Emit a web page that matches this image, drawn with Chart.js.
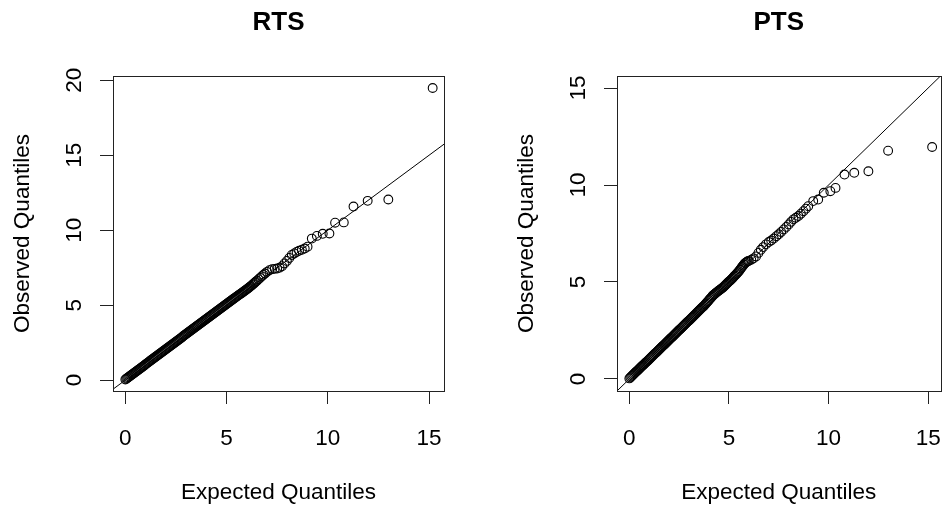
<!DOCTYPE html>
<html>
<head>
<meta charset="utf-8">
<title>RTS / PTS Q-Q plots</title>
<script src="https://cdn.jsdelivr.net/npm/chart.js@4.4.1/dist/chart.umd.min.js"></script>
<style>
  html, body { margin: 0; padding: 0; background: #fff; overflow: hidden; }
  #wrap { position: relative; width: 944px; height: 506px; overflow: hidden; }
  .panel { position: absolute; top: 0; height: 506px; }
  canvas { display: block; }
</style>
</head>
<body>
<div id="wrap">
  <div class="panel" style="left:0;width:472px"><canvas id="rtsChart" width="472" height="506"></canvas></div>
  <div class="panel" style="left:472px;width:474px"><canvas id="ptsChart" width="474" height="506"></canvas></div>
</div>
<script>
// RTS: expected vs observed quantiles
const rtsExpected = [
  0.00, 0.05, 0.10, 0.15, 0.20, 0.25, 0.30, 0.35, 0.40, 0.45, 0.50, 0.55, 0.60, 0.65, 0.70, 0.75,
  0.80, 0.85, 0.90, 0.95, 1.00, 1.05, 1.10, 1.15, 1.20, 1.25, 1.30, 1.35, 1.40, 1.45, 1.50, 1.55,
  1.60, 1.65, 1.70, 1.75, 1.80, 1.85, 1.90, 1.95, 2.00, 2.05, 2.10, 2.15, 2.20, 2.25, 2.30, 2.35,
  2.40, 2.45, 2.50, 2.55, 2.60, 2.65, 2.70, 2.75, 2.80, 2.85, 2.90, 2.95, 3.00, 3.05, 3.10, 3.15,
  3.20, 3.25, 3.30, 3.35, 3.40, 3.45, 3.50, 3.55, 3.60, 3.65, 3.70, 3.75, 3.80, 3.85, 3.90, 3.95,
  4.00, 4.05, 4.10, 4.15, 4.20, 4.25, 4.30, 4.35, 4.40, 4.45, 4.50, 4.55, 4.60, 4.65, 4.70, 4.75,
  4.80, 4.85, 4.90, 4.95, 5.00, 5.05, 5.10, 5.15, 5.20, 5.25, 5.30, 5.35, 5.40, 5.45, 5.50, 5.55,
  5.60, 5.65, 5.70, 5.75, 5.80, 5.85, 5.90, 5.95, 6.00, 6.05, 6.10, 6.15, 6.20, 6.25, 6.30, 6.35,
  6.40, 6.45, 6.50, 6.58, 6.66, 6.74, 6.82, 6.90, 7.00, 7.12, 7.25, 7.38, 7.50, 7.62, 7.74, 7.86,
  7.98, 8.10, 8.22, 8.34, 8.46, 8.58, 8.72, 8.86, 9.00, 9.21, 9.46, 9.75, 10.08, 10.36, 10.79, 11.27,
  11.97, 12.99, 15.18
];
const rtsObserved = [
  0.04, 0.09, 0.14, 0.19, 0.24, 0.29, 0.34, 0.39, 0.44, 0.49, 0.54, 0.59, 0.64, 0.69, 0.74, 0.79,
  0.84, 0.89, 0.94, 0.99, 1.05, 1.10, 1.15, 1.20, 1.26, 1.31, 1.36, 1.41, 1.46, 1.51, 1.56, 1.61,
  1.66, 1.71, 1.76, 1.81, 1.86, 1.91, 1.96, 2.01, 2.06, 2.11, 2.16, 2.21, 2.26, 2.31, 2.36, 2.41,
  2.46, 2.51, 2.56, 2.61, 2.66, 2.71, 2.76, 2.81, 2.86, 2.92, 2.97, 3.02, 3.07, 3.12, 3.17, 3.22,
  3.27, 3.32, 3.38, 3.43, 3.48, 3.53, 3.58, 3.63, 3.68, 3.73, 3.78, 3.83, 3.88, 3.93, 3.98, 4.03,
  4.08, 4.13, 4.18, 4.23, 4.28, 4.33, 4.38, 4.43, 4.48, 4.53, 4.58, 4.63, 4.68, 4.73, 4.78, 4.83,
  4.88, 4.93, 4.98, 5.03, 5.08, 5.13, 5.18, 5.23, 5.28, 5.33, 5.38, 5.43, 5.47, 5.52, 5.57, 5.62,
  5.67, 5.72, 5.76, 5.81, 5.86, 5.91, 5.96, 6.01, 6.06, 6.11, 6.16, 6.22, 6.27, 6.33, 6.39, 6.45,
  6.51, 6.57, 6.63, 6.73, 6.82, 6.92, 7.02, 7.11, 7.22, 7.33, 7.40, 7.42, 7.44, 7.50, 7.60, 7.78,
  7.95, 8.15, 8.35, 8.45, 8.55, 8.63, 8.70, 8.78, 8.90, 9.44, 9.62, 9.76, 9.78, 10.50, 10.52, 11.58,
  11.96, 12.05, 19.49
];

// PTS: expected vs observed quantiles
const ptsExpected = [
  0.00, 0.05, 0.10, 0.15, 0.20, 0.25, 0.30, 0.35, 0.40, 0.45, 0.50, 0.55, 0.60, 0.65, 0.70, 0.75,
  0.80, 0.85, 0.90, 0.95, 1.00, 1.05, 1.10, 1.15, 1.20, 1.25, 1.30, 1.35, 1.40, 1.45, 1.50, 1.55,
  1.60, 1.65, 1.70, 1.75, 1.80, 1.85, 1.90, 1.95, 2.00, 2.05, 2.10, 2.15, 2.20, 2.25, 2.30, 2.35,
  2.40, 2.45, 2.50, 2.55, 2.60, 2.65, 2.70, 2.75, 2.80, 2.85, 2.90, 2.95, 3.00, 3.05, 3.10, 3.15,
  3.20, 3.25, 3.30, 3.35, 3.40, 3.45, 3.50, 3.55, 3.60, 3.65, 3.70, 3.75, 3.80, 3.85, 3.90, 3.95,
  4.00, 4.05, 4.10, 4.15, 4.20, 4.25, 4.30, 4.35, 4.40, 4.45, 4.50, 4.55, 4.60, 4.65, 4.70, 4.75,
  4.80, 4.85, 4.90, 4.95, 5.00, 5.05, 5.10, 5.15, 5.20, 5.25, 5.30, 5.35, 5.40, 5.45, 5.50, 5.55,
  5.60, 5.65, 5.70, 5.75, 5.80, 5.85, 5.90, 5.95, 6.00, 6.12, 6.24, 6.36, 6.48, 6.60, 6.72, 6.86,
  7.00, 7.12, 7.25, 7.38, 7.50, 7.62, 7.75, 7.88, 8.00, 8.12, 8.24, 8.36, 8.49, 8.61, 8.74, 8.86,
  8.98, 9.23, 9.48, 9.76, 10.09, 10.35, 10.80, 11.29, 12.00, 12.99, 15.20
];
const ptsObserved = [
  0.03, 0.08, 0.13, 0.18, 0.23, 0.28, 0.33, 0.38, 0.43, 0.48, 0.53, 0.58, 0.63, 0.68, 0.72, 0.77,
  0.82, 0.87, 0.92, 0.97, 1.02, 1.07, 1.12, 1.17, 1.22, 1.27, 1.32, 1.37, 1.42, 1.47, 1.52, 1.57,
  1.62, 1.67, 1.72, 1.77, 1.82, 1.87, 1.92, 1.97, 2.02, 2.07, 2.12, 2.17, 2.22, 2.27, 2.32, 2.37,
  2.42, 2.47, 2.52, 2.57, 2.62, 2.67, 2.72, 2.77, 2.82, 2.87, 2.92, 2.97, 3.02, 3.07, 3.12, 3.17,
  3.22, 3.27, 3.32, 3.38, 3.43, 3.48, 3.53, 3.58, 3.63, 3.68, 3.73, 3.78, 3.84, 3.89, 3.95, 4.01,
  4.07, 4.13, 4.19, 4.25, 4.31, 4.36, 4.40, 4.44, 4.48, 4.52, 4.56, 4.60, 4.64, 4.68, 4.72, 4.77,
  4.82, 4.87, 4.92, 4.97, 5.02, 5.07, 5.12, 5.17, 5.22, 5.28, 5.33, 5.39, 5.44, 5.50, 5.56, 5.63,
  5.70, 5.77, 5.84, 5.90, 5.96, 6.00, 6.04, 6.07, 6.09, 6.15, 6.22, 6.32, 6.50, 6.66, 6.80, 6.94,
  7.06, 7.14, 7.24, 7.36, 7.46, 7.58, 7.71, 7.84, 7.97, 8.10, 8.23, 8.31, 8.40, 8.52, 8.65, 8.78,
  8.91, 9.17, 9.25, 9.60, 9.68, 9.85, 10.54, 10.63, 10.71, 11.77, 11.96
];

// axis ranges and tick positions
const rtsXRange = [-0.61, 15.74];
const rtsYRange = [-0.73, 20.29];
const ptsXRange = [-0.62, 15.62];
const ptsYRange = [-0.62, 15.62];
const rtsXTicks = [0, 5, 10, 15];
const rtsYTicks = [0, 5, 10, 15, 20];
const ptsXTicks = [0, 5, 10, 15];
const ptsYTicks = [0, 5, 10, 15];
// reference line y = x, clipped to the plot box
const identityEnds = [-1, 21];

const FONT = '"Liberation Sans", Arial, Helvetica, sans-serif';
const INK = '#222';

// box, titles and rotated y tick labels
const qqFrame = {
  id: 'qqFrame',
  afterDraw(chart, args, opts) {
    const { ctx, chartArea: a, scales: { x, y } } = chart;
    const cx = (a.left + a.right) / 2;
    const cy = (a.top + a.bottom) / 2;
    ctx.save();
    ctx.strokeStyle = INK;
    ctx.lineWidth = 1;
    ctx.strokeRect(Math.round(a.left) + 0.5, Math.round(a.top) + 0.5,
      Math.round(a.right - a.left), Math.round(a.bottom - a.top));

    ctx.fillStyle = '#000';
    ctx.textAlign = 'center';
    ctx.textBaseline = 'alphabetic';
    ctx.font = 'bold 26px ' + FONT;
    ctx.fillText(opts.title, cx, 30);

    ctx.font = '22.5px ' + FONT;
    x.ticks.forEach(t => ctx.fillText(String(t.value), x.getPixelForValue(t.value), 445));
    ctx.fillText('Expected Quantiles', cx, 499);

    ctx.textBaseline = 'middle';
    y.ticks.forEach(t => {
      ctx.save();
      ctx.translate(a.left - 38, y.getPixelForValue(t.value));
      ctx.rotate(-Math.PI / 2);
      ctx.fillText(String(t.value), 0, 0);
      ctx.restore();
    });
    ctx.translate(a.left - 90, cy);
    ctx.rotate(-Math.PI / 2);
    ctx.fillText('Observed Quantiles', 0, 0);
    ctx.restore();
  }
};

function axis(range, ticks, horizontal) {
  return {
    type: 'linear',
    min: range[0],
    max: range[1],
    afterBuildTicks: s => { s.ticks = ticks.map(v => ({ value: v })); },
    afterFit: s => { if (horizontal) s.height = 0; else s.width = 0; },
    ticks: { display: false },
    grid: { drawOnChartArea: false, drawTicks: true, tickLength: 13, color: INK, lineWidth: 1 },
    border: { display: true, color: INK, width: 1 }
  };
}

function qqChart(id, title, expected, observed, xRange, yRange, xTicks, yTicks, padding) {
  return new Chart(document.getElementById(id), {
    type: 'scatter',
    data: {
      datasets: [{
        data: expected.map((v, i) => ({ x: v, y: observed[i] })),
        pointStyle: 'circle',
        pointRadius: 4.4,
        pointBorderWidth: 1.1,
        pointBorderColor: '#000',
        pointBackgroundColor: 'rgba(0,0,0,0)'
      }, {
        type: 'line',
        data: identityEnds.map(v => ({ x: v, y: v })),
        borderColor: '#000',
        borderWidth: 1,
        pointRadius: 0,
        fill: false
      }]
    },
    options: {
      responsive: false,
      animation: false,
      layout: { padding },
      plugins: {
        legend: { display: false },
        tooltip: { enabled: false },
        qqFrame: { title }
      },
      scales: {
        x: axis(xRange, xTicks, true),
        y: axis(yRange, yTicks, false)
      }
    },
    plugins: [qqFrame]
  });
}

qqChart('rtsChart', 'RTS', rtsExpected, rtsObserved, rtsXRange, rtsYRange, rtsXTicks, rtsYTicks,
  { left: 113, right: 28, top: 76, bottom: 115 });
qqChart('ptsChart', 'PTS', ptsExpected, ptsObserved, ptsXRange, ptsYRange, ptsXTicks, ptsYTicks,
  { left: 145, right: 1, top: 76, bottom: 115 });
</script>
</body>
</html>
